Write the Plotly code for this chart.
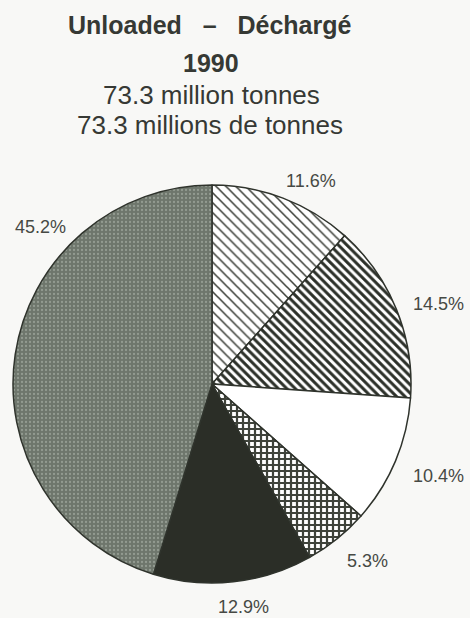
import plotly.graph_objects as go

# Data
categories = ["Segment A", "Segment B", "Segment C", "Segment D", "Segment E", "Segment F"]
shares = [11.6, 14.5, 10.4, 5.3, 12.9, 45.2]
pct_labels = [f"{v}%" for v in shares]

title_lines = ["Unloaded\u00a0\u00a0\u00a0–\u00a0\u00a0\u00a0Déchargé", "1990",
               "73.3 million tonnes", "73.3 millions de tonnes"]

# Styles
W, H = 470, 618
fill_colors = ["#ffffff", "#ffffff", "#ffffff", "#ffffff", "#2b2e27", "#6e766c"]
pat_shapes = ["\\", "\\", "", "+", "", "."]
pat_fg = ["#3a3d36", "#2c3029", "#ffffff", "#3f433b", "#2b2e27", "#939b91"]
pat_size = [7, 6, 8, 6, 8, 4]
pat_solid = [0.22, 0.5, 0.2, 0.6, 0.2, 0.25]

# label centres in pixels
label_px = [(311, 181), (438, 304), (438, 476), (367, 561), (243, 607), (40, 227)]

fig = go.Figure(go.Pie(
    labels=categories,
    values=shares,
    sort=False,
    direction="clockwise",
    rotation=0,
    textinfo="none",
    hoverinfo="label+percent",
    showlegend=False,
    marker=dict(
        colors=fill_colors,
        line=dict(color="#2f332c", width=1.5),
        pattern=dict(shape=pat_shapes, fgcolor=pat_fg, bgcolor=fill_colors,
                     size=pat_size, solidity=pat_solid, fillmode="replace"),
    ),
    domain=dict(x=[13 / W, 411 / W], y=[1 - 583 / H, 1 - 185 / H]),
))

annotations = []
title_px = [(210, 25, 25, True), (211, 63, 25, True), (211, 95, 26, False), (210, 125, 26, False)]
for txt, (px, py, fs, bold) in zip(title_lines, title_px):
    annotations.append(dict(
        text=f"<b>{txt}</b>" if bold else txt,
        x=px / W, y=1 - py / H, xref="paper", yref="paper",
        xanchor="center", yanchor="middle", showarrow=False,
        font=dict(family="Liberation Sans, Arial", size=fs, color="#363934"),
    ))
for txt, (px, py) in zip(pct_labels, label_px):
    annotations.append(dict(
        text=txt, x=px / W, y=1 - py / H, xref="paper", yref="paper",
        xanchor="center", yanchor="middle", showarrow=False,
        font=dict(family="Liberation Sans, Arial", size=18, color="#464944"),
    ))

fig.update_layout(
    width=W, height=H,
    margin=dict(l=0, r=0, t=0, b=0),
    paper_bgcolor="#f8f8f6",
    plot_bgcolor="#f8f8f6",
    annotations=annotations,
)

fig.write_html(
    "out.html",
    config={"displayModeBar": False},
    post_script="document.body.style.margin='0';document.body.style.overflow='hidden';",
)
